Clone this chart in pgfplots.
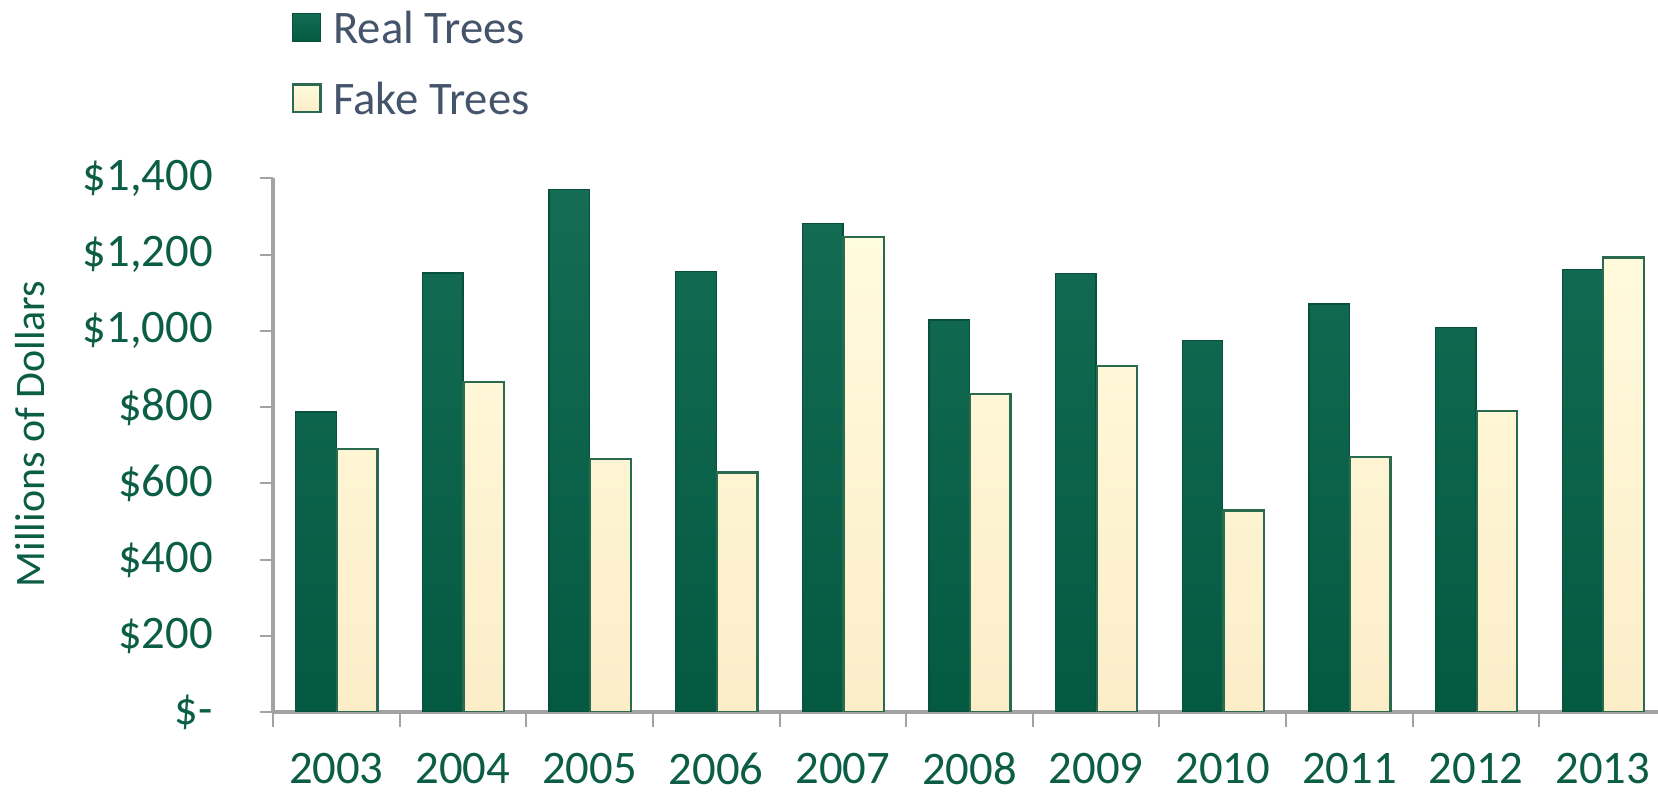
\documentclass[border=0pt]{standalone}
\usepackage{fontspec}
\setmainfont{Carlito}
\usepackage{pgfplots}
\pgfplotsset{compat=1.18}
\usepackage{pgfplotstable}

\definecolor{realgreen}{HTML}{085E46}
\definecolor{realtop}{HTML}{146C54}
\definecolor{realbottom}{HTML}{045A41}
\definecolor{faketop}{HTML}{FFFBDD}
\definecolor{fakebottom}{HTML}{FCEDC8}
\definecolor{edgegreen}{HTML}{2A6A4E}
\definecolor{labelgreen}{HTML}{0B5E45}
\definecolor{legendslate}{HTML}{44546A}
\definecolor{axisgray}{HTML}{A3A3A3}

% Christmas tree sales, millions of dollars
\pgfplotstableread{
x year real fake
0 2003 787  690
1 2004 1152 866
2 2005 1371 664
3 2006 1156 628
4 2007 1282 1246
5 2008 1028 834
6 2009 1150 908
7 2010 974  529
8 2011 1070 669
9 2012 1008 789
10 2013 1161 1192
}\treedata

\begin{document}
\begin{tikzpicture}[x=1pt,y=1pt]
\useasboundingbox (-81.9,-24) rectangle (415.5,213.6);
\begin{axis}[
  at={(0,0)}, anchor=south west,
  scale only axis,
  width=417.9pt, height=160.1pt,
  xmin=-0.5, xmax=10.5,
  ymin=0, ymax=1400,
  axis lines*=left,
  axis line style={draw=axisgray, line width=1.1pt},
  xtick={0,...,10},
  xticklabels={2003,2004,2005,2006,2007,2008,2009,2010,2011,2012,2013},
  major x tick style={draw=none},
  minor xtick={-0.5,0.5,...,9.5},
  minor x tick style={draw=axisgray, line width=0.6pt},
  minor tick length=4.5pt,
  ytick={0,200,...,1400},
  yticklabels={\$-,\$200,\$400,\$600,\$800,{\$1,000},{\$1,200},{\$1,400}},
  y tick style={draw=axisgray, line width=0.6pt},
  major tick length=4pt,
  tick align=outside,
  tick label style={font=\fontsize{14}{16}\selectfont, text=labelgreen},
  xticklabel style={yshift=-4.8pt},
  yticklabel style={xshift=-10.5pt},
  ylabel={Millions of Dollars},
  every axis y label/.style={
    at={(rel axis cs:0,0.521)}, xshift=-73pt, rotate=90, anchor=center,
    font=\fontsize{12.6}{15}\selectfont, text=labelgreen},
  bar width=0.32,
  legend style={
    at={(0,1)}, anchor=north west, xshift=5.6pt, yshift=50.1pt,
    draw=none, fill=none, inner sep=0pt, outer sep=0pt,
    inner xsep=0pt, inner ysep=0pt,
    nodes={inner sep=0pt, text depth=0pt},
    font=\fontsize{14}{16}\selectfont, text=legendslate,
    row sep=11.5pt, column sep=3.5pt,
  },
  legend cell align=left,
  legend image code/.code={
    \draw[#1] (0pt,-4.15pt) rectangle (8.3pt,4.15pt);
  },
]
\addplot[ybar, bar shift=-0.16, top color=realtop, bottom color=realbottom,
  draw=realgreen!85!black, line width=0.4pt]
  table[x=x, y=real] {\treedata};
\addlegendentry{Real Trees}
\addplot[ybar, bar shift=0.165, top color=faketop, bottom color=fakebottom,
  draw=edgegreen, line width=0.7pt]
  table[x=x, y=fake] {\treedata};
\addlegendentry{Fake Trees}
\end{axis}
\end{tikzpicture}
\end{document}
